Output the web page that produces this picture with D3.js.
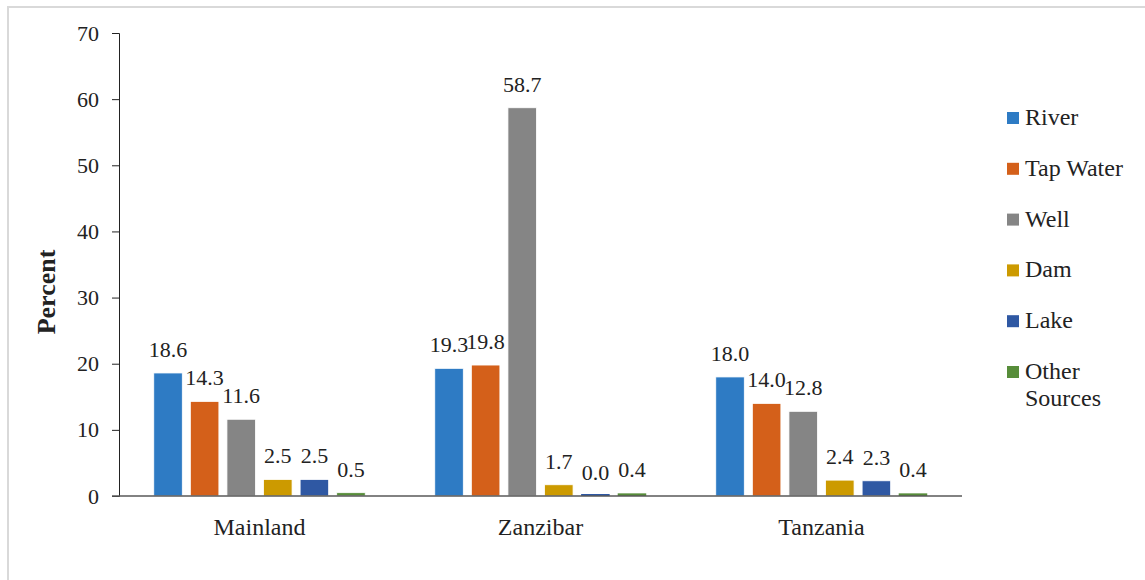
<!DOCTYPE html>
<html>
<head>
<meta charset="utf-8">
<script src="https://cdn.jsdelivr.net/npm/d3@7"></script>
<style>
  body { margin: 0; background: #fff; }
  svg text { font-family: "Liberation Serif", "Times New Roman", serif !important; fill: #222; }
</style>
</head>
<body>
<div id="chart"></div>
<script>
// data
var regions = ["Mainland", "Zanzibar", "Tanzania"];
var sources = ["River", "Tap Water", "Well", "Dam", "Lake", "Other Sources"];
var colors = ["#2e7bc4", "#d4601a", "#858585", "#cc9a00", "#2f58a3", "#578d3a"];
var river = [18.6, 19.3, 18.0];
var tapWater = [14.3, 19.8, 14.0];
var well = [11.6, 58.7, 12.8];
var dam = [2.5, 1.7, 2.4];
var lake = [2.5, 0.0, 2.3];
var other = [0.5, 0.4, 0.4];
var yTicks = [0, 10, 20, 30, 40, 50, 60, 70];

var series = [river, tapWater, well, dam, lake, other];

var serif = "'Liberation Serif', 'Times New Roman', serif";
var width = 1145, height = 580;
var margin = { top: 33, left: 119, right: 183, bottom: 84 };

var svg = d3.select("#chart").append("svg")
    .attr("width", width)
    .attr("height", height)
    .attr("font-family", serif);

// outer frame (only top and left edges show in the picture)
svg.append("rect")
    .attr("x", 8).attr("y", 7)
    .attr("width", 1200).attr("height", 700)
    .attr("fill", "none")
    .attr("stroke", "#d9d9d9")
    .attr("stroke-width", 2);

var x0 = d3.scaleBand()
    .domain(regions)
    .range([margin.left, width - margin.right]);

var x1 = d3.scaleBand()
    .domain(sources)
    .range([0, x0.bandwidth()])
    .paddingInner(0.22)
    .paddingOuter(0.95);

var y = d3.scaleLinear()
    .domain([0, 70])
    .range([height - margin.bottom, margin.top]);

// y axis
var yAxis = svg.append("g")
    .attr("transform", "translate(" + margin.left + ",0)")
    .call(d3.axisLeft(y).tickValues(yTicks).tickSize(7).tickPadding(13).tickFormat(d3.format("d")));
yAxis.attr("font-family", serif);
yAxis.selectAll("path, line").attr("stroke", "#222");
yAxis.selectAll("text").style("font-size", "22px").attr("fill", "#222");

// bars
regions.forEach(function (r, i) {
    var g = svg.append("g").attr("transform", "translate(" + x0(r) + ",0)");
    sources.forEach(function (s, j) {
        var v = series[j][i];
        var h = Math.max(y(0) - y(v), 2);
        g.append("rect")
            .attr("x", x1(s))
            .attr("y", y(0) - h)
            .attr("width", x1.bandwidth())
            .attr("height", h)
            .attr("fill", colors[j])
            .attr("stroke", h > 3 ? "#fff" : "none")
            .attr("stroke-width", 0.8);
        g.append("text")
            .attr("x", x1(s) + x1.bandwidth() / 2)
            .attr("y", y(v) - 16)
            .attr("text-anchor", "middle")
            .style("font-size", "22px")
            .text(v.toFixed(1));
    });
});

// x axis
svg.append("line")
    .attr("x1", margin.left - 7).attr("x2", width - margin.right)
    .attr("y1", y(0)).attr("y2", y(0))
    .attr("stroke", "#595959")
    .attr("stroke-width", 1.5);

svg.selectAll(".xlab")
    .data(regions)
    .enter().append("text")
    .attr("class", "xlab")
    .attr("x", function (d) { return x0(d) + x0.bandwidth() / 2; })
    .attr("y", 535)
    .attr("text-anchor", "middle")
    .style("font-size", "24px")
    .text(function (d) { return d; });

// y title
svg.append("text")
    .attr("transform", "translate(55,292) rotate(-90)")
    .attr("text-anchor", "middle")
    .style("font-size", "26px")
    .style("font-weight", "bold")
    .attr("fill", "#111")
    .text("Percent");

// legend
var legend = svg.append("g").attr("transform", "translate(1007,118)");
sources.forEach(function (s, j) {
    var row = legend.append("g").attr("transform", "translate(0," + (j * 50.8) + ")");
    row.append("rect")
        .attr("x", 0).attr("y", -6)
        .attr("width", 12).attr("height", 12)
        .attr("fill", colors[j]);
    var t = row.append("text")
        .attr("x", 18).attr("y", 7)
        .style("font-size", "24px");
    if (s === "Other Sources") {
        t.append("tspan").attr("x", 18).text("Other");
        t.append("tspan").attr("x", 18).attr("dy", 27).text("Sources");
    } else {
        t.text(s);
    }
});
</script>
</body>
</html>
